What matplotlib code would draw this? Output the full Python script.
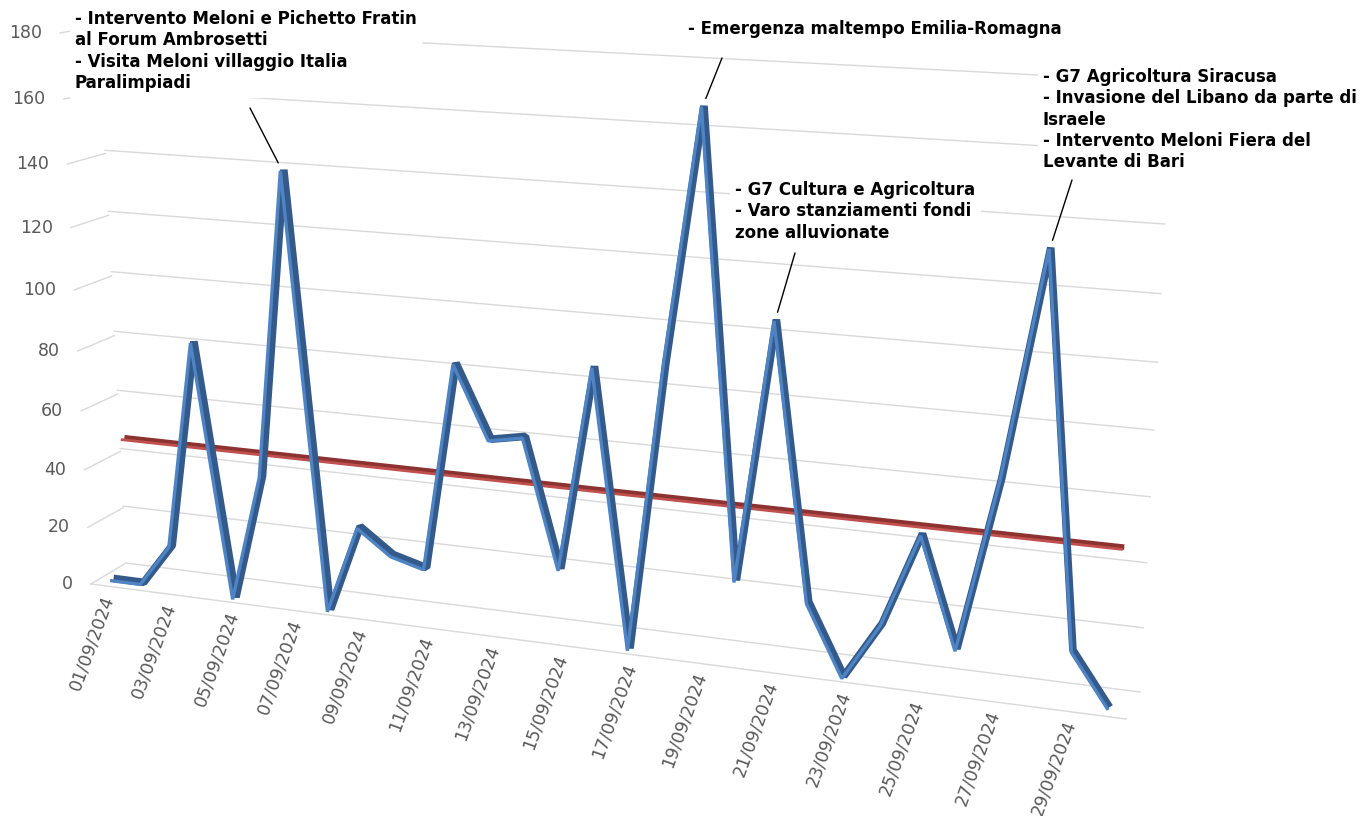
import numpy as np
import matplotlib
matplotlib.use("Agg")
import matplotlib.pyplot as plt
from matplotlib.transforms import Transform

# daily values, September 2024
days = np.arange(1, 31)
mentions = [1, 1, 15, 84, 0, 42, 141, 0, 29, 21, 18, 85, 62, 64, 23,
            88, 0, 91, 168, 26, 107, 22, 0, 18, 47, 13, 66, 134, 17, 1]
average = 46  # red line: mean of the month

tick_days = days[::2]
tick_labels = [f"{d:02d}/09/2024" for d in tick_days]
y_ticks = np.arange(0, 181, 20)

event_days = [7, 19, 21, 28]
event_texts = [
    "- Intervento Meloni e Pichetto Fratin\nal Forum Ambrosetti\n- Visita Meloni villaggio Italia\nParalimpiadi",
    "- Emergenza maltempo Emilia-Romagna",
    "- G7 Cultura e Agricoltura\n- Varo stanziamenti fondi\nzone alluvionate",
    "- G7 Agricoltura Siracusa\n- Invasione del Libano da parte di\nIsraele\n- Intervento Meloni Fiera del\nLevante di Bari",
]

W, H = 1371, 816
# screen corners (pixels) of the 3D box: front plane and back wall
FRONT = {"bl": (91, 584), "tl": (60, 33), "br": (1126, 719), "tr": (1159, 89)}
BACK = {"bl": (126, 563), "tl": (99, 26), "br": (1140, 692), "tr": (1172, 82)}
X0, X1 = 0.5, 30.5
VMAX = 180


def homography(src, dst):
    A, b = [], []
    for (x, y), (u, v) in zip(src, dst):
        A.append([x, y, 1, 0, 0, 0, -u * x, -u * y])
        b.append(u)
        A.append([0, 0, 0, x, y, 1, -v * x, -v * y])
        b.append(v)
    h = np.linalg.solve(np.array(A, float), np.array(b, float))
    return np.append(h, 1).reshape(3, 3)


class PlaneTransform(Transform):
    input_dims = 2
    output_dims = 2
    is_separable = False
    has_inverse = False

    def __init__(self, M):
        super().__init__()
        self.M = M

    def transform_non_affine(self, values):
        values = np.asarray(values, float).reshape(-1, 2)
        p = np.column_stack([values, np.ones(len(values))]) @ self.M.T
        return p[:, :2] / p[:, 2:3]


def lerp(a, b, t):
    return (a[0] + (b[0] - a[0]) * t, a[1] + (b[1] - a[1]) * t)


fig = plt.figure(figsize=(W / 100, H / 100), dpi=100)
ax = fig.add_axes([0, 0, 1, 1])
ax.set_xlim(0, W)
ax.set_ylim(H, 0)
ax.axis("off")


def depth_plane(z):
    c = {k: lerp(FRONT[k], BACK[k], z) for k in FRONT}
    src = [(X0, 0), (X0, VMAX), (X1, 0), (X1, VMAX)]
    dst = [c["bl"], c["tl"], c["br"], c["tr"]]
    return PlaneTransform(homography(src, dst)) + ax.transData


back_T = depth_plane(1.0)
side_T = PlaneTransform(homography(
    [(0, 0), (0, VMAX), (1, 0), (1, VMAX)],
    [FRONT["bl"], FRONT["tl"], BACK["bl"], BACK["tl"]])) + ax.transData
floor_T = PlaneTransform(homography(
    [(X0, 0), (X1, 0), (X0, 1), (X1, 1)],
    [FRONT["bl"], FRONT["br"], BACK["bl"], BACK["br"]])) + ax.transData

grid_c = "#d9d9d9"
label_c = "#595959"

# walls
for v in y_ticks:
    ax.plot([X0, X1], [v, v], transform=back_T, color=grid_c, lw=1.0, zorder=1)
    ax.plot([0, 1], [v, v], transform=side_T, color=grid_c, lw=1.0, zorder=1)
    ax.annotate(f"{v}", xy=(0, v), xycoords=side_T, xytext=(-13, 0),
                textcoords="offset points", ha="right", va="center",
                fontsize=12.5, color=label_c)
ax.plot([X0, X1], [0, 0], transform=floor_T, color=grid_c, lw=1.0, zorder=1)

for d, lab in zip(tick_days, tick_labels):
    ax.annotate(lab, xy=(d, 0), xycoords=floor_T, xytext=(2, -7),
                textcoords="offset points", rotation=70, rotation_mode="anchor",
                ha="right", va="center", fontsize=12.5, color=label_c)

# average ribbon (back row)
line_kw = dict(solid_joinstyle="bevel", solid_capstyle="butt")
ax.plot([days[0], days[-1]], [average, average], transform=depth_plane(0.72),
        color="#8c3331", lw=4.0, zorder=4, **line_kw)
ax.plot([days[0], days[-1]], [average, average], transform=depth_plane(0.62),
        color="#c0504d", lw=2.0, zorder=4, **line_kw)

# main series ribbon (front row)
blue_mid = depth_plane(0.17)
ax.plot(days, mentions, transform=depth_plane(0.22), color="#335a8a",
        lw=5.5, zorder=5, **line_kw)
ax.plot(days, mentions, transform=depth_plane(0.12), color="#4f84c4",
        lw=2.4, zorder=5, **line_kw)

# event labels
text_pos = [(75, 10), (688, 20), (735, 181), (1043, 68)]
leader_start = [(250, 108), (722, 58), (795, 253), (1072, 180)]
for d, txt, (tx, ty), (sx, sy) in zip(event_days, event_texts, text_pos, leader_start):
    ax.text(tx, ty, txt, ha="left", va="top", fontsize=12, fontweight="bold",
            linespacing=1.24, color="black", zorder=3,
            bbox=dict(facecolor="white", edgecolor="none", pad=4))
    ax.annotate("", xy=(d, mentions[d - 1]), xycoords=blue_mid,
                xytext=(sx, sy), textcoords="data",
                arrowprops=dict(arrowstyle="-", color="black", lw=1,
                                shrinkA=0, shrinkB=6), zorder=3)

fig.savefig("out.png", dpi=100)
